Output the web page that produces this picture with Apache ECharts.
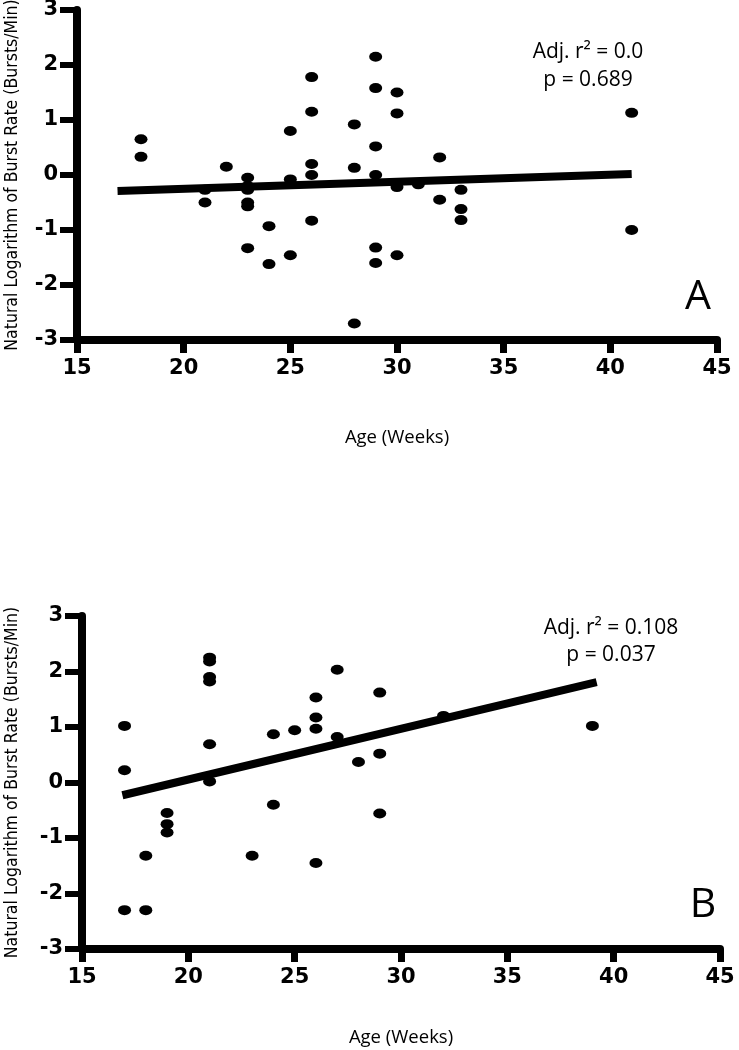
<!DOCTYPE html>
<html>
<head>
<meta charset="utf-8">
<script src="https://cdn.jsdelivr.net/npm/echarts@6/dist/echarts.min.js"></script>
<style>
html,body{margin:0;padding:0;background:#fff;}
#chart{width:739px;height:1050px;}
</style>
</head>
<body>
<div id="chart"></div>
<script>
// ---- data ----
const xTicks = [15, 20, 25, 30, 35, 40, 45];
const yTicks = [-3, -2, -1, 0, 1, 2, 3];

const ageA = [18,18,21,21,22,23,23,23,23,23,23,24,24,25,25,25,26,26,26,26,26,28,28,28,29,29,29,29,29,29,30,30,30,30,31,32,32,33,33,33,41,41];
const lnA  = [0.65,0.33,-0.27,-0.5,0.15,-0.05,-0.2,-0.27,-0.5,-0.57,-1.33,-0.93,-1.62,0.8,-0.08,-1.46,1.78,1.15,0.2,0,-0.83,0.92,0.13,-2.7,2.15,1.58,0.52,0,-1.32,-1.6,1.5,1.12,-0.22,-1.46,-0.17,0.32,-0.45,-0.27,-0.62,-0.82,1.13,-1.0];

const ageB = [17,17,17,18,18,19,19,19,21,21,21,21,21,21,23,24,24,25,26,26,26,26,27,27,28,29,29,29,32,39];
const lnB  = [1.02,0.22,-2.3,-1.32,-2.3,-0.55,-0.75,-0.9,2.25,2.18,1.9,1.82,0.69,0.02,-1.32,0.87,-0.4,0.94,1.53,1.17,0.97,-1.45,2.03,0.82,0.37,1.62,0.52,-0.56,1.2,1.02];

const fitAx = [16.9, 41];
const fitAy = [-0.29, 0.02];
const fitBx = [16.9, 39.2];
const fitBy = [-0.23, 1.81];

const statsA = ['Adj. r\u00B2 = 0.0', 'p = 0.689'];
const statsB = ['Adj. r\u00B2 = 0.108', 'p = 0.037'];
const panelLabels = ['A', 'B'];
const xTitle = 'Age (Weeks)';
const yTitle = 'Natural Logarithm of Burst Rate (Bursts/Min)';

// ---- chart ----
const zip = (xs, ys) => xs.map((x, i) => [x, ys[i]]);
const tickFont = { color: '#000', fontWeight: 'bold', fontSize: 21, fontFamily: "'DejaVu Sans', 'Liberation Sans', sans-serif" };
const titleFont = "'Liberation Sans Narrow', 'DejaVu Sans Condensed', 'Open Sans', sans-serif";

function xAxisCfg(idx, gap) {
  return {
    gridIndex: idx, type: 'value',
    min: xTicks[0], max: xTicks[xTicks.length - 1], interval: xTicks[1] - xTicks[0],
    name: xTitle, nameLocation: 'middle', nameGap: gap,
    nameTextStyle: { color: '#000', fontSize: 18.5, fontFamily: "'Open Sans', sans-serif" },
    axisLine: { show: true, onZero: false, lineStyle: { color: '#000', width: 8 } },
    axisTick: { show: true, length: 13, lineStyle: { color: '#000', width: 7 } },
    axisLabel: Object.assign({ margin: 18 }, tickFont),
    splitLine: { show: false }
  };
}
function yAxisCfg(idx, gap) {
  return {
    gridIndex: idx, type: 'value',
    min: yTicks[0], max: yTicks[yTicks.length - 1], interval: yTicks[1] - yTicks[0],
    name: yTitle, nameLocation: 'middle', nameGap: gap, nameRotate: 90,
    nameTextStyle: { color: '#000', fontSize: 17.5, fontFamily: titleFont },
    axisLine: { show: true, onZero: false, lineStyle: { color: '#000', width: 8 } },
    axisTick: { show: true, length: 17, lineStyle: { color: '#000', width: 6 } },
    axisLabel: Object.assign({ margin: 19 }, tickFont),
    splitLine: { show: false }
  };
}

const chart = echarts.init(document.getElementById('chart'), null, { renderer: 'canvas' });
const statStyle = { fill: '#000', fontSize: 21, fontFamily: "'Open Sans', sans-serif", align: 'center', verticalAlign: 'middle' };
const letterStyle = { fill: '#000', fontSize: 41, fontFamily: "'Open Sans', sans-serif", align: 'center', verticalAlign: 'middle' };
const dotStyle = { color: '#000', opacity: 1 };

chart.setOption({
  animation: false,
  backgroundColor: '#fff',
  grid: [
    { left: 77, right: 22, top: 10, height: 330, containLabel: false, outerBoundsMode: 'none' },
    { left: 82, right: 19, top: 616, height: 333, containLabel: false, outerBoundsMode: 'none' }
  ],
  xAxis: [xAxisCfg(0, 88), xAxisCfg(1, 79)],
  yAxis: [yAxisCfg(0, 56), yAxisCfg(1, 61)],
  series: [
    { type: 'line', xAxisIndex: 0, yAxisIndex: 0, data: zip(fitAx, fitAy), symbol: 'none', lineStyle: { color: '#000', width: 8 }, z: 2 },
    { type: 'scatter', xAxisIndex: 0, yAxisIndex: 0, data: zip(ageA, lnA), symbol: 'circle', symbolSize: [13, 10], itemStyle: dotStyle, z: 3 },
    { type: 'line', xAxisIndex: 1, yAxisIndex: 1, data: zip(fitBx, fitBy), symbol: 'none', lineStyle: { color: '#000', width: 8 }, z: 2 },
    { type: 'scatter', xAxisIndex: 1, yAxisIndex: 1, data: zip(ageB, lnB), symbol: 'circle', symbolSize: [13, 10], itemStyle: dotStyle, z: 3 }
  ],
  graphic: [
    { type: 'text', x: 588, y: 52, style: Object.assign({ text: statsA[0] }, statStyle) },
    { type: 'text', x: 588, y: 80, style: Object.assign({ text: statsA[1] }, statStyle) },
    { type: 'text', x: 611, y: 628, style: Object.assign({ text: statsB[0] }, statStyle) },
    { type: 'text', x: 611, y: 655, style: Object.assign({ text: statsB[1] }, statStyle) },
    { type: 'text', x: 698, y: 297, style: Object.assign({ text: panelLabels[0] }, letterStyle) },
    { type: 'text', x: 703, y: 905, style: Object.assign({ text: panelLabels[1] }, letterStyle) }
  ]
});
</script>
</body>
</html>
